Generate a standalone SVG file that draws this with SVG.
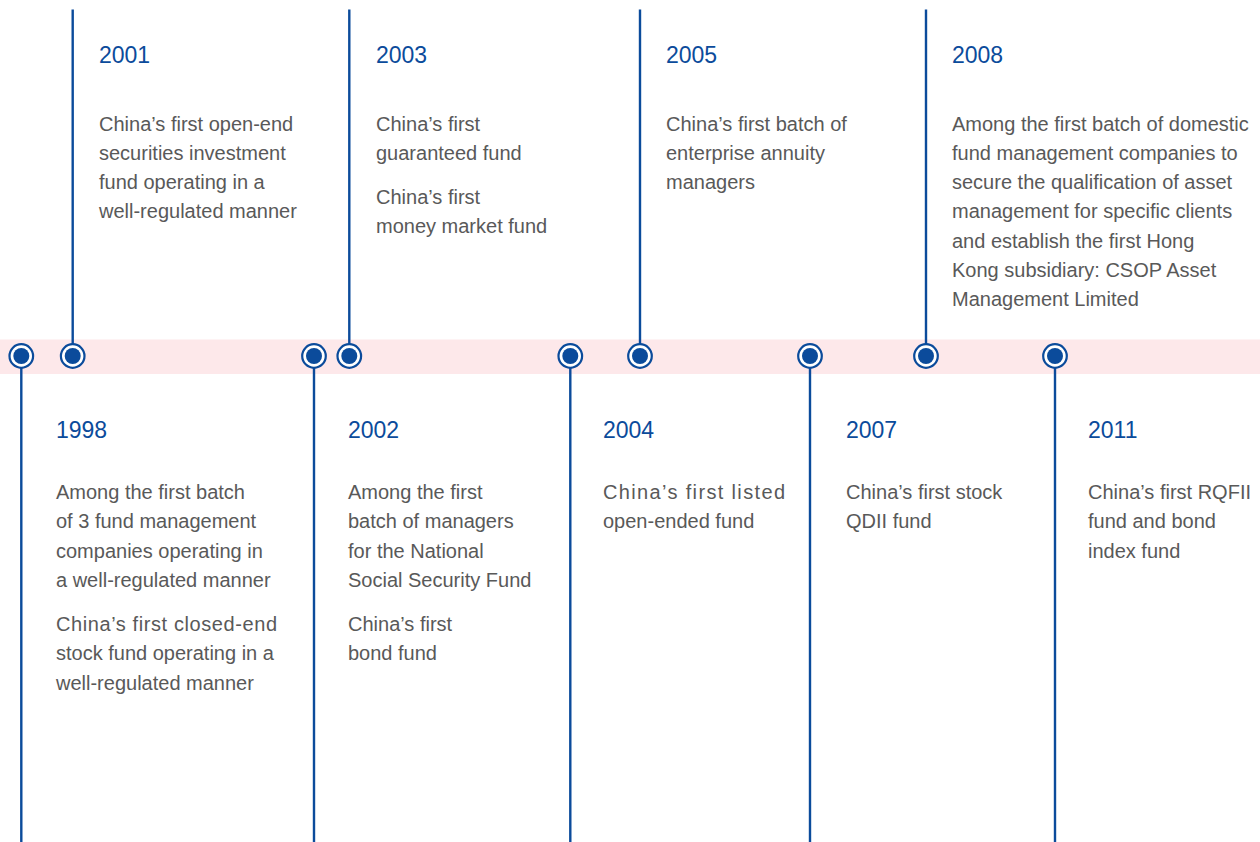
<svg xmlns="http://www.w3.org/2000/svg" width="1260" height="842" viewBox="0 0 1260 842">
<style>
.yr{font-family:"Liberation Sans",Arial,sans-serif;font-size:23px;fill:#0b4b9b}
.tx{font-family:"Liberation Sans",Arial,sans-serif;font-size:20px;fill:#595959}
.ln{stroke:#0b4b9b;stroke-width:2.4;fill:none}
.ring{fill:#fff;stroke:#0b4b9b;stroke-width:2.2}
.dot{fill:#0b4b9b}
</style>
<defs>
<g id="mk"><circle class="ring" r="11.8"/><circle class="dot" r="8"/></g>
</defs>
<rect x="0" y="339.5" width="1260" height="34.5" fill="#fde8ea"/>
<g id="connectors">
<line class="ln" x1="21.3" y1="356" x2="21.3" y2="842"/>
<line class="ln" x1="72.7" y1="9.5" x2="72.7" y2="356"/>
<line class="ln" x1="314" y1="356" x2="314" y2="842"/>
<line class="ln" x1="349.3" y1="9.5" x2="349.3" y2="356"/>
<line class="ln" x1="570.3" y1="356" x2="570.3" y2="842"/>
<line class="ln" x1="640" y1="9.5" x2="640" y2="356"/>
<line class="ln" x1="810" y1="356" x2="810" y2="842"/>
<line class="ln" x1="926" y1="9.5" x2="926" y2="356"/>
<line class="ln" x1="1055" y1="356" x2="1055" y2="842"/>
</g>
<g id="n1998">
<use href="#mk" x="21.3" y="356"/>
<text class="yr" x="56" y="437.5">1998</text>
<text class="tx" x="56" y="499">Among the first batch</text>
<text class="tx" x="56" y="528.3">of 3 fund management</text>
<text class="tx" x="56" y="557.6">companies operating in</text>
<text class="tx" x="56" y="586.9">a well-regulated manner</text>
<text class="tx" x="56" y="631" textLength="221" lengthAdjust="spacing">China’s first closed-end</text>
<text class="tx" x="56" y="660.3">stock fund operating in a</text>
<text class="tx" x="56" y="689.6">well-regulated manner</text>
</g>
<g id="n2001">
<use href="#mk" x="72.7" y="356"/>
<text class="yr" x="99" y="63">2001</text>
<text class="tx" x="99" y="130.5">China’s first open-end</text>
<text class="tx" x="99" y="159.8">securities investment</text>
<text class="tx" x="99" y="189.1">fund operating in a</text>
<text class="tx" x="99" y="218.4">well-regulated manner</text>
</g>
<g id="n2002">
<use href="#mk" x="314" y="356"/>
<text class="yr" x="348" y="437.5">2002</text>
<text class="tx" x="348" y="499">Among the first</text>
<text class="tx" x="348" y="528.3">batch of managers</text>
<text class="tx" x="348" y="557.6">for the National</text>
<text class="tx" x="348" y="586.9">Social Security Fund</text>
<text class="tx" x="348" y="631">China’s first</text>
<text class="tx" x="348" y="660.3">bond fund</text>
</g>
<g id="n2003">
<use href="#mk" x="349.3" y="356"/>
<text class="yr" x="376" y="63">2003</text>
<text class="tx" x="376" y="130.5">China’s first</text>
<text class="tx" x="376" y="159.8">guaranteed fund</text>
<text class="tx" x="376" y="204">China’s first</text>
<text class="tx" x="376" y="233.3">money market fund</text>
</g>
<g id="n2004">
<use href="#mk" x="570.3" y="356"/>
<text class="yr" x="603" y="437.5">2004</text>
<text class="tx" x="603" y="499" textLength="182" lengthAdjust="spacing">China’s first listed</text>
<text class="tx" x="603" y="528.3">open-ended fund</text>
</g>
<g id="n2005">
<use href="#mk" x="640" y="356"/>
<text class="yr" x="666" y="63">2005</text>
<text class="tx" x="666" y="130.5">China’s first batch of</text>
<text class="tx" x="666" y="159.8">enterprise annuity</text>
<text class="tx" x="666" y="189.1">managers</text>
</g>
<g id="n2007">
<use href="#mk" x="810" y="356"/>
<text class="yr" x="846" y="437.5">2007</text>
<text class="tx" x="846" y="499">China’s first stock</text>
<text class="tx" x="846" y="528.3">QDII fund</text>
</g>
<g id="n2008">
<use href="#mk" x="926" y="356"/>
<text class="yr" x="952" y="63">2008</text>
<text class="tx" x="952" y="130.5">Among the first batch of domestic</text>
<text class="tx" x="952" y="159.8">fund management companies to</text>
<text class="tx" x="952" y="189.1">secure the qualification of asset</text>
<text class="tx" x="952" y="218.4">management for specific clients</text>
<text class="tx" x="952" y="247.7">and establish the first Hong</text>
<text class="tx" x="952" y="277">Kong subsidiary: CSOP Asset</text>
<text class="tx" x="952" y="306.3">Management Limited</text>
</g>
<g id="n2011">
<use href="#mk" x="1055" y="356"/>
<text class="yr" x="1088" y="437.5">2011</text>
<text class="tx" x="1088" y="499">China’s first RQFII</text>
<text class="tx" x="1088" y="528.3">fund and bond</text>
<text class="tx" x="1088" y="557.6">index fund</text>
</g>
</svg>
